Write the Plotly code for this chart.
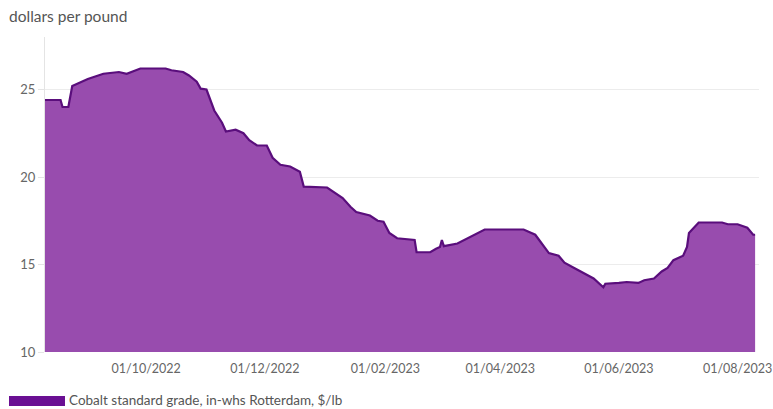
import plotly.graph_objects as go

dates = [
    "2022-08-10", "2022-08-18", "2022-08-19", "2022-08-22", "2022-08-24", "2022-08-28",
    "2022-09-01", "2022-09-09", "2022-09-17", "2022-09-21", "2022-09-26", "2022-09-28",
    "2022-10-11", "2022-10-14", "2022-10-20", "2022-10-23", "2022-10-27", "2022-10-29",
    "2022-11-01", "2022-11-05", "2022-11-09", "2022-11-11", "2022-11-16", "2022-11-20",
    "2022-11-23", "2022-11-27", "2022-12-02", "2022-12-05", "2022-12-09", "2022-12-14",
    "2022-12-19", "2022-12-21", "2023-01-02", "2023-01-07", "2023-01-10", "2023-01-14",
    "2023-01-17", "2023-01-24", "2023-01-28", "2023-01-31", "2023-02-03", "2023-02-07",
    "2023-02-16", "2023-02-17", "2023-02-24", "2023-02-27", "2023-03-01", "2023-03-02",
    "2023-03-03", "2023-03-10", "2023-03-17", "2023-03-24", "2023-04-13", "2023-04-19",
    "2023-04-21", "2023-04-26", "2023-05-01", "2023-05-04", "2023-05-09", "2023-05-16",
    "2023-05-19", "2023-05-24", "2023-05-25", "2023-06-01", "2023-06-05", "2023-06-11",
    "2023-06-14", "2023-06-19", "2023-06-23", "2023-06-26", "2023-06-29", "2023-07-04",
    "2023-07-06", "2023-07-07", "2023-07-12", "2023-07-24", "2023-07-27", "2023-08-01",
    "2023-08-06", "2023-08-09", "2023-08-10",
]
prices = [
    24.4, 24.4, 24.0, 24.0, 25.2, 25.4,
    25.6, 25.9, 26.0, 25.9, 26.1, 26.2,
    26.2, 26.1, 26.0, 25.8, 25.45, 25.05,
    25.0, 23.8, 23.1, 22.6, 22.7, 22.5,
    22.1, 21.8, 21.8, 21.1, 20.7, 20.6,
    20.3, 19.45, 19.4, 19.0, 18.8, 18.3,
    18.0, 17.8, 17.5, 17.45, 16.8, 16.5,
    16.4, 15.7, 15.7, 15.9, 16.0, 16.4,
    16.05, 16.2, 16.6, 17.0, 17.0, 16.7,
    16.4, 15.65, 15.5, 15.1, 14.8, 14.4,
    14.2, 13.7, 13.9, 13.95, 14.0, 13.95,
    14.1, 14.2, 14.6, 14.8, 15.25, 15.5,
    16.0, 16.8, 17.4, 17.4, 17.3, 17.3,
    17.1, 16.7, 16.7,
]
x_ticks = ["2022-10-01", "2022-12-01", "2023-02-01", "2023-04-01", "2023-06-01", "2023-08-01"]
y_ticks = [10, 15, 20, 25]
series_name = "Cobalt standard grade, in-whs Rotterdam, $/lb"
y_title = "dollars per pound"

FILL = "#984cae"
LINE = "#5a0e7c"
FONT = "Lato"

# Full-window figure; the page body margin is removed in post_script.
W, H = 773, 409
L, R, T, B = 45, 14, 37, 57
PW, PH = W - L - R, H - T - B


def px(xp):
    return (xp - L) / PW


def py(yp):
    return (H - B - yp) / PH


fig = go.Figure()
fig.add_trace(go.Scatter(
    x=dates, y=prices, mode="lines", fill="tozeroy",
    fillcolor=FILL, line=dict(color=LINE, width=2.2),
    name=series_name, showlegend=False,
))

fig.update_layout(
    width=W, height=H,
    margin=dict(l=L, r=R, t=T, b=B, autoexpand=False),
    paper_bgcolor="white", plot_bgcolor="white",
    font=dict(family=FONT, size=13, color="#666666"),
    xaxis=dict(
        range=["2022-08-10", "2023-08-12"],
        tickvals=x_ticks, tickformat="%d/%m/%Y",
        showgrid=False, showline=False, zeroline=False,
        ticks="", tickfont=dict(size=12.5, color="#666666"),
        ticklabeloverflow="allow", ticklabelstandoff=7,
    ),
    yaxis=dict(
        range=[10, 28], tickvals=y_ticks,
        showgrid=True, gridcolor="#ececec", gridwidth=1,
        showline=True, linecolor="#e4e4e4", linewidth=1,
        ticks="outside", ticklen=6, tickcolor="#e4e4e4",
        zeroline=False, tickfont=dict(size=13, color="#666666"),
    ),
    shapes=[dict(
        type="rect", xref="paper", yref="paper",
        x0=px(9), x1=px(65), y0=py(406), y1=py(396),
        fillcolor="#6a0f93", line=dict(width=0),
    )],
    annotations=[
        dict(text=y_title, xref="paper", yref="paper", x=px(7), y=py(16),
             xanchor="left", yanchor="middle", showarrow=False,
             font=dict(family=FONT, size=15.5, color="#555555")),
        dict(text=series_name, xref="paper", yref="paper", x=px(67), y=py(400),
             xanchor="left", yanchor="middle", showarrow=False,
             font=dict(family=FONT, size=13.5, color="#555555")),
    ],
)

fig.write_html(
    "out.html",
    config={"displayModeBar": False},
    post_script="document.body.style.margin='0px';document.body.style.overflow='hidden';",
)
